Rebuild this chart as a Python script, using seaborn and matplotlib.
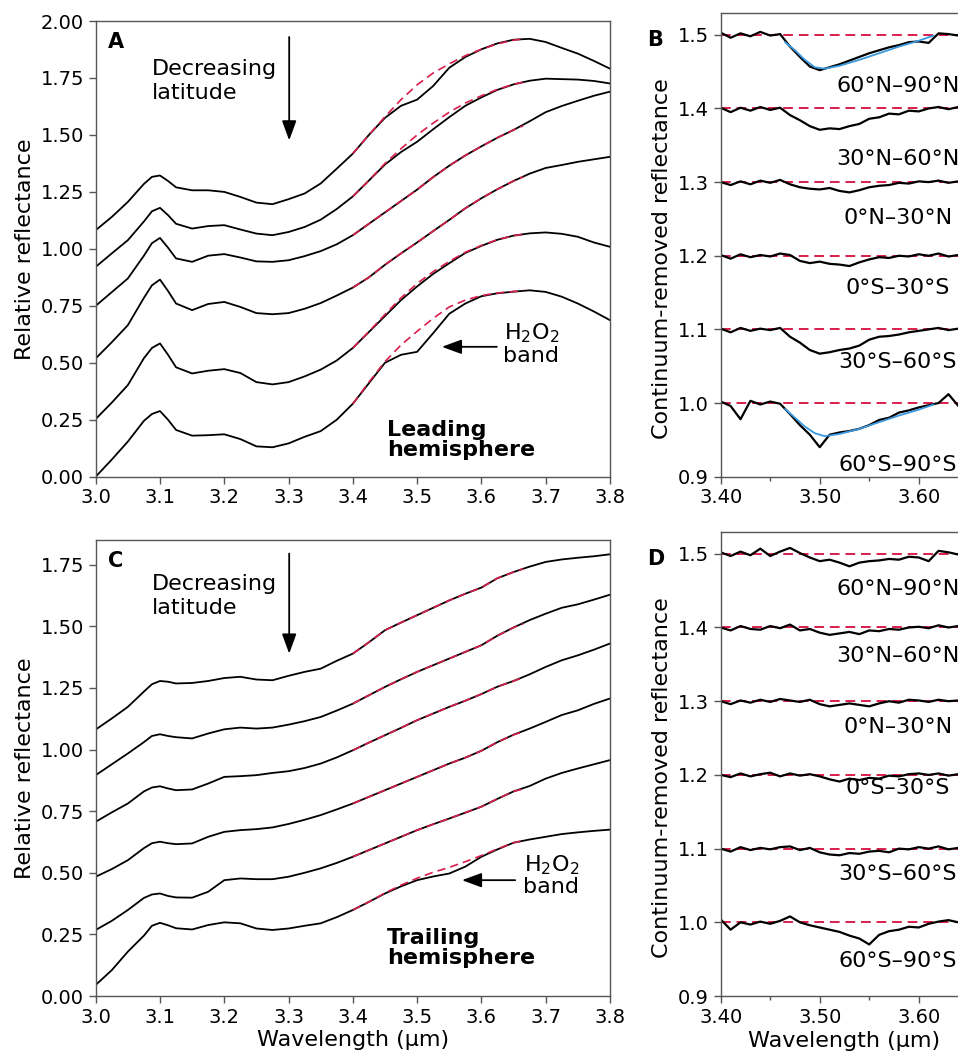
import matplotlib
matplotlib.use("Agg")
import matplotlib.pyplot as plt
import seaborn as sns
from matplotlib.ticker import MultipleLocator, FormatStrFormatter

# -----------------------------
# Data
# -----------------------------
# panels A and C: relative reflectance, top curve = highest latitude
WL = [3.000, 3.025, 3.050, 3.075, 3.0875, 3.100, 3.1125, 3.125, 3.150, 3.175, 3.200, 3.225, 3.250,
      3.275, 3.300, 3.325, 3.350, 3.375, 3.400, 3.425, 3.450, 3.475, 3.500, 3.525,
      3.550, 3.575, 3.600, 3.625, 3.650, 3.675, 3.700, 3.725, 3.750, 3.775, 3.800]

LEAD_1 = [1.082, 1.140, 1.206, 1.285, 1.316, 1.322, 1.298, 1.270, 1.257, 1.257, 1.250, 1.228, 1.203,
          1.196, 1.218, 1.243, 1.287, 1.352, 1.418, 1.500, 1.575, 1.628, 1.655, 1.715,
          1.795, 1.842, 1.876, 1.902, 1.918, 1.922, 1.908, 1.882, 1.857, 1.825, 1.791]
LEAD_2 = [0.921, 0.980, 1.038, 1.120, 1.165, 1.180, 1.148, 1.110, 1.089, 1.100, 1.104, 1.085, 1.067,
          1.060, 1.074, 1.096, 1.128, 1.175, 1.230, 1.300, 1.370, 1.425, 1.470, 1.525,
          1.578, 1.628, 1.665, 1.698, 1.722, 1.738, 1.747, 1.745, 1.743, 1.737, 1.726]
LEAD_3 = [0.750, 0.810, 0.870, 0.970, 1.025, 1.048, 1.005, 0.958, 0.943, 0.970, 0.977, 0.962, 0.945,
          0.943, 0.950, 0.968, 0.990, 1.020, 1.060, 1.110, 1.160, 1.210, 1.260, 1.315,
          1.365, 1.410, 1.450, 1.488, 1.522, 1.560, 1.600, 1.627, 1.650, 1.672, 1.690]
LEAD_4 = [0.519, 0.590, 0.665, 0.785, 0.840, 0.865, 0.815, 0.760, 0.731, 0.758, 0.767, 0.745, 0.718,
          0.713, 0.718, 0.737, 0.762, 0.795, 0.830, 0.875, 0.930, 0.980, 1.028, 1.078,
          1.127, 1.178, 1.222, 1.262, 1.298, 1.330, 1.355, 1.368, 1.382, 1.393, 1.404]
LEAD_5 = [0.253, 0.325, 0.402, 0.520, 0.565, 0.585, 0.535, 0.480, 0.453, 0.465, 0.472, 0.455, 0.415,
          0.405, 0.415, 0.440, 0.470, 0.510, 0.565, 0.635, 0.705, 0.775, 0.835, 0.890,
          0.937, 0.982, 1.013, 1.040, 1.058, 1.068, 1.072, 1.066, 1.053, 1.028, 1.009]
LEAD_6 = [0.000, 0.075, 0.154, 0.245, 0.275, 0.288, 0.250, 0.205, 0.180, 0.182, 0.186, 0.165, 0.133,
          0.129, 0.146, 0.175, 0.200, 0.250, 0.320, 0.410, 0.500, 0.535, 0.548, 0.630,
          0.715, 0.760, 0.792, 0.805, 0.812, 0.818, 0.811, 0.790, 0.760, 0.725, 0.687]

TRAIL_1 = [1.081, 1.126, 1.173, 1.235, 1.265, 1.278, 1.275, 1.268, 1.270, 1.278, 1.290, 1.295, 1.284,
           1.281, 1.299, 1.315, 1.328, 1.360, 1.389, 1.435, 1.484, 1.515, 1.545, 1.575,
           1.605, 1.632, 1.657, 1.695, 1.720, 1.742, 1.761, 1.771, 1.778, 1.784, 1.792]
TRAIL_2 = [0.896, 0.940, 0.984, 1.030, 1.055, 1.062, 1.055, 1.050, 1.045, 1.065, 1.082, 1.089, 1.085,
           1.089, 1.101, 1.115, 1.132, 1.158, 1.186, 1.220, 1.254, 1.285, 1.315, 1.342,
           1.369, 1.396, 1.423, 1.462, 1.495, 1.525, 1.551, 1.575, 1.589, 1.608, 1.628]
TRAIL_3 = [0.707, 0.745, 0.781, 0.830, 0.846, 0.851, 0.842, 0.835, 0.838, 0.862, 0.889, 0.892, 0.896,
           0.905, 0.912, 0.925, 0.943, 0.968, 0.997, 1.028, 1.058, 1.088, 1.119, 1.146,
           1.173, 1.198, 1.225, 1.255, 1.278, 1.305, 1.335, 1.362, 1.382, 1.405, 1.430]
TRAIL_4 = [0.484, 0.515, 0.551, 0.600, 0.620, 0.626, 0.620, 0.616, 0.619, 0.646, 0.666, 0.673, 0.677,
           0.684, 0.698, 0.715, 0.734, 0.757, 0.781, 0.808, 0.835, 0.862, 0.889, 0.916,
           0.943, 0.967, 0.995, 1.030, 1.060, 1.085, 1.112, 1.140, 1.159, 1.185, 1.207]
TRAIL_5 = [0.268, 0.305, 0.349, 0.398, 0.412, 0.416, 0.406, 0.400, 0.399, 0.423, 0.470, 0.477, 0.474,
           0.474, 0.484, 0.500, 0.518, 0.540, 0.565, 0.592, 0.619, 0.646, 0.673, 0.697,
           0.720, 0.744, 0.768, 0.800, 0.830, 0.852, 0.882, 0.905, 0.923, 0.940, 0.957]
TRAIL_6 = [0.045, 0.105, 0.180, 0.245, 0.285, 0.297, 0.287, 0.275, 0.270, 0.288, 0.299, 0.295, 0.274,
           0.268, 0.274, 0.285, 0.295, 0.320, 0.349, 0.382, 0.416, 0.445, 0.470, 0.485,
           0.497, 0.525, 0.565, 0.595, 0.622, 0.635, 0.646, 0.657, 0.664, 0.670, 0.675]

# continuum fits (red dashed) in A and C
FIT_WL = [3.400, 3.425, 3.450, 3.475, 3.500, 3.525, 3.550, 3.575, 3.600, 3.625, 3.650, 3.665]
LEAD_FIT_1 = [1.418, 1.500, 1.580, 1.655, 1.720, 1.772, 1.812, 1.848, 1.876, 1.900, 1.916, 1.922]
LEAD_FIT_2 = [1.230, 1.300, 1.375, 1.440, 1.500, 1.552, 1.600, 1.640, 1.672, 1.700, 1.722, 1.732]
LEAD_FIT_3 = [1.060, 1.110, 1.160, 1.210, 1.260, 1.315, 1.365, 1.410, 1.450, 1.488, 1.522, 1.540]
LEAD_FIT_4 = [0.830, 0.875, 0.930, 0.980, 1.028, 1.078, 1.127, 1.178, 1.222, 1.262, 1.298, 1.316]
LEAD_FIT_5 = [0.565, 0.637, 0.712, 0.785, 0.848, 0.900, 0.945, 0.985, 1.015, 1.040, 1.058, 1.064]
LEAD_FIT_6 = [0.320, 0.415, 0.505, 0.578, 0.638, 0.695, 0.745, 0.775, 0.795, 0.806, 0.813, 0.817]

TRAIL_FIT_1 = [1.389, 1.435, 1.484, 1.515, 1.545, 1.575, 1.605, 1.632, 1.657, 1.695, 1.720, 1.733]
TRAIL_FIT_2 = [1.186, 1.220, 1.254, 1.285, 1.315, 1.342, 1.369, 1.396, 1.423, 1.462, 1.495, 1.510]
TRAIL_FIT_3 = [0.997, 1.028, 1.058, 1.088, 1.119, 1.146, 1.173, 1.198, 1.225, 1.255, 1.278, 1.292]
TRAIL_FIT_4 = [0.781, 0.808, 0.835, 0.862, 0.889, 0.916, 0.943, 0.967, 0.995, 1.030, 1.060, 1.072]
TRAIL_FIT_5 = [0.565, 0.592, 0.619, 0.646, 0.673, 0.697, 0.720, 0.744, 0.768, 0.800, 0.830, 0.840]
TRAIL_FIT_6 = [0.349, 0.382, 0.418, 0.450, 0.478, 0.502, 0.522, 0.545, 0.570, 0.597, 0.622, 0.630]

# panels B and D: continuum-removed reflectance (before stacking offsets)
CR_WL = [3.40, 3.41, 3.42, 3.43, 3.44, 3.45, 3.46, 3.47, 3.48, 3.49, 3.50, 3.51, 3.52,
         3.53, 3.54, 3.55, 3.56, 3.57, 3.58, 3.59, 3.60, 3.61, 3.62, 3.63, 3.64, 3.65]

LEAD_CR_60N = [1.003, 0.996, 1.002, 0.998, 1.004, 0.999, 1.001, 0.984, 0.970, 0.957, 0.952, 0.956, 0.960,
               0.965, 0.970, 0.975, 0.979, 0.983, 0.986, 0.990, 0.991, 0.989, 1.002, 1.001, 0.999, 1.002]
LEAD_CR_30N = [1.001, 0.995, 1.001, 0.997, 1.002, 0.998, 1.001, 0.991, 0.984, 0.976, 0.971, 0.973, 0.972,
               0.976, 0.979, 0.986, 0.988, 0.993, 0.992, 0.997, 0.996, 1.000, 1.002, 0.999, 1.002, 1.000]
LEAD_CR_0N = [1.000, 0.996, 1.001, 0.997, 1.002, 0.999, 1.003, 0.997, 0.993, 0.991, 0.990, 0.992, 0.988,
              0.986, 0.989, 0.993, 0.995, 0.996, 0.999, 0.998, 1.001, 1.000, 1.002, 0.999, 1.001, 1.000]
LEAD_CR_0S = [1.001, 0.996, 1.002, 0.998, 1.001, 0.999, 1.003, 1.001, 0.993, 0.990, 0.992, 0.989, 0.988,
              0.986, 0.991, 0.995, 0.998, 0.997, 1.000, 0.999, 1.002, 1.000, 1.003, 0.999, 1.001, 1.000]
LEAD_CR_30S = [1.001, 0.996, 1.002, 0.998, 1.001, 0.999, 1.002, 0.990, 0.982, 0.972, 0.967, 0.969, 0.972,
               0.974, 0.978, 0.986, 0.990, 0.991, 0.993, 0.996, 0.998, 1.000, 1.002, 0.999, 1.001, 1.000]
LEAD_CR_60S = [1.002, 0.996, 0.978, 1.003, 0.998, 1.002, 0.999, 0.985, 0.970, 0.957, 0.940, 0.957, 0.960,
               0.962, 0.965, 0.970, 0.977, 0.980, 0.987, 0.990, 0.994, 0.997, 1.000, 1.012, 0.996, 1.003]

TRAIL_CR_60N = [1.002, 0.997, 1.003, 0.998, 1.007, 0.997, 1.003, 1.008, 1.001, 0.995, 0.990, 0.992, 0.988,
                0.983, 0.988, 0.990, 0.991, 0.993, 0.992, 0.996, 0.995, 0.990, 1.004, 1.002, 0.999, 1.001]
TRAIL_CR_30N = [1.000, 0.996, 1.002, 0.998, 0.997, 1.002, 0.999, 1.004, 0.996, 0.998, 0.993, 0.990, 0.992,
                0.994, 0.991, 0.996, 0.995, 0.998, 0.997, 1.000, 1.001, 0.999, 1.003, 1.000, 1.002, 1.000]
TRAIL_CR_0N = [1.000, 0.996, 1.001, 0.998, 1.002, 0.999, 1.003, 1.001, 0.999, 1.002, 0.996, 0.993, 0.995,
               0.997, 0.995, 0.993, 0.997, 1.000, 0.998, 1.002, 1.001, 0.999, 1.002, 1.000, 1.001, 1.000]
TRAIL_CR_0S = [1.000, 0.997, 1.002, 0.998, 1.001, 1.003, 0.998, 1.002, 0.999, 1.001, 0.998, 0.994, 0.991,
               0.995, 0.993, 0.996, 0.995, 0.999, 0.998, 1.001, 1.002, 1.000, 1.002, 0.999, 1.001, 1.000]
TRAIL_CR_30S = [1.000, 0.996, 1.002, 0.998, 1.001, 0.999, 1.002, 1.003, 0.998, 1.001, 0.995, 0.992, 0.991,
                0.994, 0.993, 0.996, 0.997, 0.995, 1.000, 0.999, 1.002, 1.000, 1.003, 0.999, 1.001, 1.000]
TRAIL_CR_60S = [1.004, 0.990, 1.000, 0.997, 1.001, 0.998, 1.002, 1.008, 1.000, 0.996, 0.993, 0.990, 0.987,
                0.982, 0.978, 0.970, 0.983, 0.988, 0.990, 0.994, 0.993, 0.998, 1.001, 1.003, 1.000, 1.002]

# band model fits (blue) in B
BAND_FIT_WL = [3.465, 3.475, 3.485, 3.495, 3.505, 3.520, 3.540, 3.560, 3.580, 3.600, 3.615]
BAND_FIT_60N = [0.990, 0.979, 0.966, 0.956, 0.954, 0.958, 0.966, 0.975, 0.984, 0.992, 0.999]
BAND_FIT_60S = [0.992, 0.980, 0.968, 0.959, 0.955, 0.958, 0.965, 0.974, 0.983, 0.991, 0.998]

LAT_LABELS = ["60°N–90°N", "30°N–60°N", "0°N–30°N", "0°S–30°S", "30°S–60°S", "60°S–90°S"]
OFFSETS = [0.5, 0.4, 0.3, 0.2, 0.1, 0.0]

RED = "#d81e4b"
BLUE = "#3a98e0"
SPINE = "#555555"

# label heights in panels B / D (layout only)
B_LABEL_Y = [1.430, 1.331, 1.251, 1.156, 1.056, 0.916]
D_LABEL_Y = [1.452, 1.362, 1.265, 1.182, 1.065, 0.947]

ARROW = dict(arrowstyle="-|>,head_length=0.6,head_width=0.22", color="black",
             lw=1.3, shrinkA=0, shrinkB=0, mutation_scale=20)


# -----------------------------
# helpers
# -----------------------------
def style_axes(ax):
    for s in ax.spines.values():
        s.set_color(SPINE)
        s.set_linewidth(1.0)
    ax.tick_params(which="both", direction="out", color=SPINE, labelsize=14,
                   labelcolor="black", width=1.0)
    ax.tick_params(which="major", length=5)
    ax.tick_params(which="minor", length=3)


def spectra_panel(ax, curves, fits, ymax):
    for c in curves:
        sns.lineplot(x=WL, y=c, ax=ax, color="black", lw=1.3, estimator=None, sort=False)
    for f in fits:
        sns.lineplot(x=FIT_WL, y=f, ax=ax, color=RED, lw=1.2, estimator=None, sort=False,
                     linestyle=(0, (5, 3)), zorder=3)
    ax.set_xlim(3.0, 3.8)
    ax.set_ylim(0, ymax)
    ax.xaxis.set_major_locator(MultipleLocator(0.1))
    ax.xaxis.set_major_formatter(FormatStrFormatter("%.1f"))
    ax.yaxis.set_major_locator(MultipleLocator(0.25))
    ax.yaxis.set_major_formatter(FormatStrFormatter("%.2f"))
    ax.set_ylim(0, ymax)
    ax.set_ylabel("Relative reflectance", fontsize=16)
    ax.yaxis.set_label_coords(-0.118, 0.5)
    style_axes(ax)


def band_panel(ax, rows, label_y, blue=None):
    for vals, off in zip(rows, OFFSETS):
        ax.axhline(1.0 + off, color=RED, lw=1.4, linestyle=(0, (5, 3)), zorder=1)
        sns.lineplot(x=CR_WL, y=[v + off for v in vals], ax=ax, color="black", lw=1.6,
                     estimator=None, sort=False, zorder=2)
    if blue:
        for vals, off in blue:
            sns.lineplot(x=BAND_FIT_WL, y=[v + off for v in vals], ax=ax, color=BLUE,
                         lw=1.3, estimator=None, sort=False, zorder=3)
    for lab, y in zip(LAT_LABELS, label_y):
        ax.text(3.579, y, lab, fontsize=16, ha="center", va="center")
    ax.set_xlim(3.40, 3.65)
    ax.set_ylim(0.9, 1.53)
    ax.xaxis.set_major_locator(MultipleLocator(0.1))
    ax.xaxis.set_minor_locator(MultipleLocator(0.05))
    ax.xaxis.set_major_formatter(FormatStrFormatter("%.2f"))
    ax.yaxis.set_major_locator(MultipleLocator(0.1))
    ax.yaxis.set_major_formatter(FormatStrFormatter("%.1f"))
    ax.set_ylabel("Continuum-removed reflectance", fontsize=16)
    ax.yaxis.set_label_coords(-0.195, 0.47)
    style_axes(ax)


# -----------------------------
# figure
# -----------------------------
sns.set_theme(style="ticks")
plt.rcParams["font.family"] = ["DejaVu Sans"]
plt.rcParams["mathtext.fontset"] = "dejavusans"
plt.rcParams["text.color"] = "black"
plt.rcParams["axes.labelcolor"] = "black"

fig = plt.figure(figsize=(9.58, 10.52), dpi=100)
ax_a = fig.add_axes([0.0999, 0.5469, 0.5368, 0.4331])
ax_b = fig.add_axes([0.7523, 0.5469, 0.2584, 0.4410])
ax_c = fig.add_axes([0.0999, 0.0532, 0.5368, 0.4335])
ax_d = fig.add_axes([0.7523, 0.0532, 0.2584, 0.4414])

# A: leading hemisphere
spectra_panel(ax_a, [LEAD_1, LEAD_2, LEAD_3, LEAD_4, LEAD_5, LEAD_6],
              [LEAD_FIT_1, LEAD_FIT_2, LEAD_FIT_3, LEAD_FIT_4, LEAD_FIT_5, LEAD_FIT_6], 2.0)
ax_a.set_xlabel("")
ax_a.text(3.088, 1.735, "Decreasing\nlatitude", fontsize=16, ha="left", va="center", linespacing=1.25)
ax_a.annotate("", xy=(3.301, 1.476), xytext=(3.301, 1.93), arrowprops=ARROW)
ax_a.annotate("", xy=(3.5385, 0.570), xytext=(3.624, 0.570), arrowprops=ARROW)
ax_a.text(3.634, 0.585, "H$_2$O$_2$\nband", fontsize=16, ha="left", va="center",
          multialignment="center", linespacing=1.05)
ax_a.text(3.453, 0.159, "Leading\nhemisphere", fontsize=16, fontweight="bold",
          ha="left", va="center", linespacing=1.0)

# B: leading band depth
band_panel(ax_b, [LEAD_CR_60N, LEAD_CR_30N, LEAD_CR_0N, LEAD_CR_0S, LEAD_CR_30S, LEAD_CR_60S],
           B_LABEL_Y, blue=[(BAND_FIT_60N, OFFSETS[0]), (BAND_FIT_60S, OFFSETS[5])])
ax_b.set_xlabel("")

# C: trailing hemisphere
spectra_panel(ax_c, [TRAIL_1, TRAIL_2, TRAIL_3, TRAIL_4, TRAIL_5, TRAIL_6],
              [TRAIL_FIT_1, TRAIL_FIT_2, TRAIL_FIT_3, TRAIL_FIT_4, TRAIL_FIT_5, TRAIL_FIT_6], 1.85)
ax_c.set_xlabel("Wavelength (µm)", fontsize=16, labelpad=2)
ax_c.text(3.088, 1.622, "Decreasing\nlatitude", fontsize=16, ha="left", va="center", linespacing=1.25)
ax_c.annotate("", xy=(3.301, 1.389), xytext=(3.301, 1.795), arrowprops=ARROW)
ax_c.annotate("", xy=(3.5697, 0.470), xytext=(3.6525, 0.470), arrowprops=ARROW)
ax_c.text(3.6655, 0.490, "H$_2$O$_2$\nband", fontsize=16, ha="left", va="center",
          multialignment="center", linespacing=1.05)
ax_c.text(3.453, 0.193, "Trailing\nhemisphere", fontsize=16, fontweight="bold",
          ha="left", va="center", linespacing=1.0)

# D: trailing band depth
band_panel(ax_d, [TRAIL_CR_60N, TRAIL_CR_30N, TRAIL_CR_0N, TRAIL_CR_0S, TRAIL_CR_30S, TRAIL_CR_60S],
           D_LABEL_Y)
ax_d.set_xlabel("Wavelength (µm)", fontsize=16, labelpad=2)
ax_d.xaxis.set_label_coords(0.5, -0.075)

# panel letters
for letter, x, y in [("A", 0.1127, 0.960), ("B", 0.676, 0.962), ("C", 0.1127, 0.4667), ("D", 0.676, 0.4686)]:
    fig.text(x, y, letter, fontsize=15, fontweight="bold", ha="left", va="center")

fig.savefig("out.png", dpi=100)
plt.close(fig)
